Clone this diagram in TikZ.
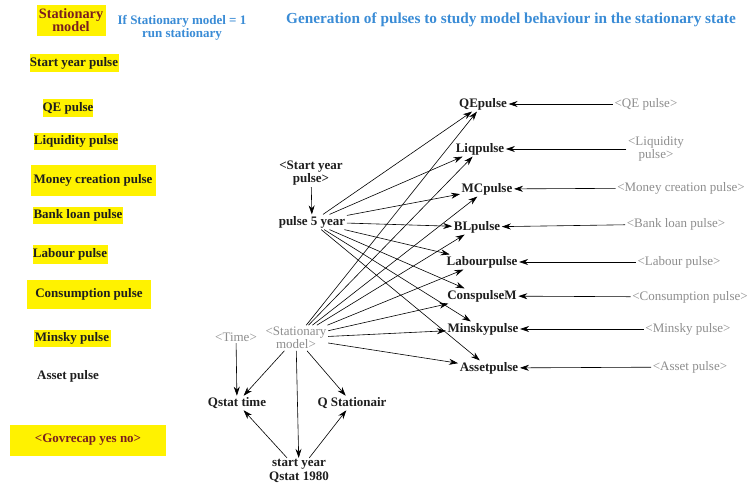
\documentclass[tikz,border=0pt]{standalone}
\usepackage{fontspec}
\setmainfont{Liberation Serif}
\usetikzlibrary{arrows.meta}
\definecolor{dred}{HTML}{7A1F1F}
\definecolor{tblue}{HTML}{3A8CD6}
\definecolor{tgray}{HTML}{8E8E8E}
\definecolor{tblack}{HTML}{1E1E1E}
\begin{document}
\begin{tikzpicture}[x=1pt,y=-1pt,
  font=\bfseries\fontsize{13}{15.5}\selectfont, text=tblack,
  ybox/.style={fill=yellow, inner sep=0pt, align=center},
  var/.style={inner sep=1.5pt, align=center},
  ghost/.style={var, text=tgray, font=\fontsize{13}{15.5}\selectfont},
  arr/.style={draw=black, line width=0.6pt, -{Stealth[length=9pt,width=6pt]}}]
\fill[white] (0,0) rectangle (752,488);
\useasboundingbox (0,0) rectangle (752,488);
% header
\node[ybox, text=dred, minimum width=69pt, minimum height=31pt, font=\bfseries\fontsize{14.3}{15}\selectfont] (stm) at (71,20) {Stationary\\[-2pt]model};
\node[var, text=tblue] (ifs) at (182,28) {If Stationary model = 1\\[-2pt]run stationary};
\node[var, text=tblue, font=\bfseries\fontsize{15.3}{17}\selectfont] (title) at (511,20) {Generation of pulses to study model behaviour in the stationary state};
% left boxes
\node[ybox, minimum width=89pt, minimum height=18pt] (lsy) at (74,63) {Start year pulse};
\node[ybox, minimum width=50pt, minimum height=18pt] (lqe) at (68,108) {QE pulse};
\node[ybox, minimum width=84pt, minimum height=17pt] (lliq) at (76,141) {Liquidity pulse};
\node[ybox, minimum width=125pt, minimum height=31pt] (lmc) at (93,180) {Money creation pulse};
\node[ybox, minimum width=90pt, minimum height=17pt] (lbl) at (78,215) {Bank loan pulse};
\node[ybox, minimum width=75pt, minimum height=19pt] (llab) at (70,254) {Labour pulse};
\node[ybox, minimum width=124pt, minimum height=29pt] (lcons) at (89,294) {Consumption pulse};
\node[ybox, minimum width=77pt, minimum height=17pt] (lmin) at (72,338) {Minsky pulse};
\node[var] (lasset) at (68,376) {Asset pulse};
\node[ybox, text=dred, minimum width=156pt, minimum height=31pt] (lgov) at (88,440) {<Govrecap yes no>};
% middle
\node[var] (syp) at (311,173) {<Start year\\[-2pt]pulse>};
\node[var] (p5) at (312,222) {pulse 5 year};
\node[ghost] (time) at (236,337) {<Time>};
\node[ghost] (sm) at (296,338) {<Stationary\\[-2pt]model>};
\node[var] (qst) at (237,403) {Qstat time};
\node[var] (qsa) at (352,403) {Q Stationair};
\node[var] (sy80) at (299,471) {start year\\[-2pt]Qstat 1980};
% targets
\node[var] (tqe) at (483,104) {QEpulse};
\node[var] (tliq) at (480,149) {Liqpulse};
\node[var] (tmc) at (487,189) {MCpulse};
\node[var] (tbl) at (477,227) {BLpulse};
\node[var] (tlab) at (482,262) {Labourpulse};
\node[var] (tcons) at (482,296) {ConspulseM};
\node[var] (tmin) at (483,329) {Minskypulse};
\node[var] (tasset) at (489,368) {Assetpulse};
% sources
\node[ghost] (sqe) at (646,104) {<QE pulse>};
\node[ghost] (sliq) at (656,149) {<Liquidity\\[-2pt]pulse>};
\node[ghost] (smc) at (681,188) {<Money creation pulse>};
\node[ghost] (sbl) at (676,224) {<Bank loan pulse>};
\node[ghost] (slab) at (679,262) {<Labour pulse>};
\node[ghost] (scons) at (690,297) {<Consumption pulse>};
\node[ghost] (smin) at (688,329) {<Minsky pulse>};
\node[ghost] (sasset) at (690,367) {<Asset pulse>};
% connectors
\draw[arr] (syp) -- (p5);
\foreach \s/\t in {sqe/tqe, sliq/tliq, smc/tmc, sbl/tbl, slab/tlab, scons/tcons, smin/tmin, sasset/tasset}
  \draw[arr] (\s) -- (\t);
\foreach \t in {tqe, tliq, tmc, tbl, tlab, tcons, tmin, tasset} {
  \draw[arr] (p5) -- (\t);
  \draw[arr] (sm) -- (\t);
}
\draw[arr] (time) -- (qst);
\draw[arr] (sm) -- (qst);
\draw[arr] (sm) -- (qsa);
\draw[arr] (sm) -- (sy80);
\draw[arr] (sy80) -- (qst);
\draw[arr] (sy80) -- (qsa);
\end{tikzpicture}
\end{document}
